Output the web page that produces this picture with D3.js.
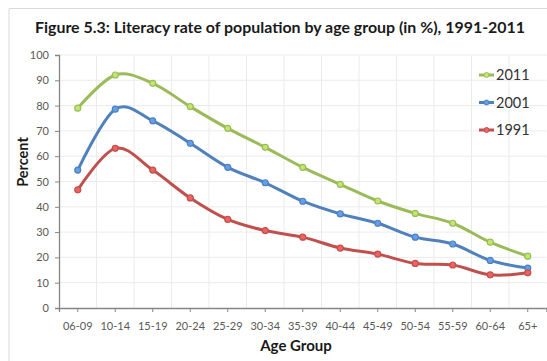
<!DOCTYPE html>
<html><head><meta charset="utf-8">
<script src="https://cdn.jsdelivr.net/npm/d3@7"></script>
<style>body{margin:0;background:#fff;} svg{display:block;}</style>
</head><body>
<svg id="c" width="547" height="361"></svg>
<script>
const categories = ["06-09","10-14","15-19","20-24","25-29","30-34","35-39","40-44","45-49","50-54","55-59","60-64","65+"];
const v2011 = [79.0, 92.1, 88.8, 79.6, 71.0, 63.5, 55.6, 48.9, 42.3, 37.4, 33.5, 26.0, 20.5];
const v2001 = [54.5, 78.6, 74.0, 65.1, 55.6, 49.5, 42.2, 37.2, 33.5, 28.0, 25.3, 18.8, 15.8];
const v1991 = [46.7, 63.1, 54.5, 43.5, 35.0, 30.6, 28.0, 23.7, 21.3, 17.6, 17.0, 13.1, 13.9];
const seriesNames = ["2011","2001","1991"];
const colors = ["#9BBB59","#4F81BD","#C0504D"];
const yTicks = [0,10,20,30,40,50,60,70,80,90,100];
const series = [v2011, v2001, v1991];

const svg = d3.select("#c");
const font = "Lato, 'Open Sans', 'Liberation Sans', sans-serif";
const pL = 59, pR = 546.5, pT = 55, pB = 308;

// frame
svg.append("path").attr("d", "M9,361 V8.5 H547").attr("fill","none").attr("stroke","#d9d9d9").attr("stroke-width",1);

const x = d3.scaleBand().domain(categories).range([pL, pR]);
const y = d3.scaleLinear().domain([0,100]).range([pB, pT]);

// gridlines
const g = svg.append("g");
g.selectAll("line.h").data(yTicks.slice(1)).enter().append("line")
  .attr("x1", pL).attr("x2", pR).attr("y1", d=>y(d)).attr("y2", d=>y(d))
  .attr("stroke","#ebebeb").attr("stroke-width",1);
g.selectAll("line.v").data(categories.slice(1)).enter().append("line")
  .attr("x1", d=>x(d)).attr("x2", d=>x(d)).attr("y1", pT).attr("y2", pB)
  .attr("stroke","#ebebeb").attr("stroke-width",1);

// axes
const yAxis = d3.axisLeft(y).tickValues(yTicks).tickSize(4).tickPadding(6);
const ya = svg.append("g").attr("transform",`translate(${pL},0)`).call(yAxis);
const xAxis = d3.axisBottom(x).tickSize(4).tickPadding(10);
const xa = svg.append("g").attr("transform",`translate(0,${pB})`).call(xAxis);
[ya, xa].forEach(a => {
  a.select(".domain").attr("stroke","#868686").attr("stroke-width",1.3);
  a.selectAll(".tick line").attr("stroke","#868686");
  a.selectAll(".tick text").attr("fill","#595959").attr("font-family",font).attr("font-size",11);
});

// lines
const line = d3.line().x((d,i)=>x(categories[i]) + x.bandwidth()/2).y(d=>y(d)).curve(d3.curveCatmullRom.alpha(0));
series.forEach((s,k) => {
  svg.append("path").datum(s).attr("d", line).attr("fill","none")
    .attr("stroke", colors[k]).attr("stroke-width", 3);
  svg.selectAll(null).data(s).enter().append("circle")
    .attr("cx",(d,i)=>x(categories[i]) + x.bandwidth()/2).attr("cy", d=>y(d)).attr("r",3)
    .attr("fill", d3.color(colors[k]).brighter(0.6)).attr("stroke", colors[k]).attr("stroke-width",1.2);
});

// legend
const legY = [75, 102.5, 130];
seriesNames.forEach((n,k) => {
  const lg = svg.append("g");
  lg.append("line").attr("x1",479).attr("x2",494).attr("y1",legY[k]).attr("y2",legY[k])
    .attr("stroke",colors[k]).attr("stroke-width",3);
  lg.append("circle").attr("cx",486.5).attr("cy",legY[k]).attr("r",2.5)
    .attr("fill", d3.color(colors[k]).brighter(0.6)).attr("stroke",colors[k]).attr("stroke-width",1);
  lg.append("text").attr("x",496).attr("y",legY[k]+5).text(n)
    .attr("font-family",font).attr("font-size",14.5).attr("fill","#333");
});

// title and axis titles
svg.append("text").attr("x",280).attr("y",33).attr("text-anchor","middle")
  .attr("font-family",font).attr("font-weight","bold").attr("font-size",15).attr("fill","#1a1a1a")
  .attr("textLength",490).attr("lengthAdjust","spacingAndGlyphs")
  .text("Figure 5.3: Literacy rate of population by age group (in %), 1991-2011");
svg.append("text").attr("transform","translate(28,162) rotate(-90)").attr("text-anchor","middle")
  .attr("font-family",font).attr("font-weight","bold").attr("font-size",14.5).attr("fill","#1a1a1a")
  .text("Percent");
svg.append("text").attr("x",296).attr("y",351).attr("text-anchor","middle")
  .attr("font-family",font).attr("font-weight","bold").attr("font-size",15).attr("fill","#1a1a1a")
  .text("Age Group");
</script>
</body></html>
